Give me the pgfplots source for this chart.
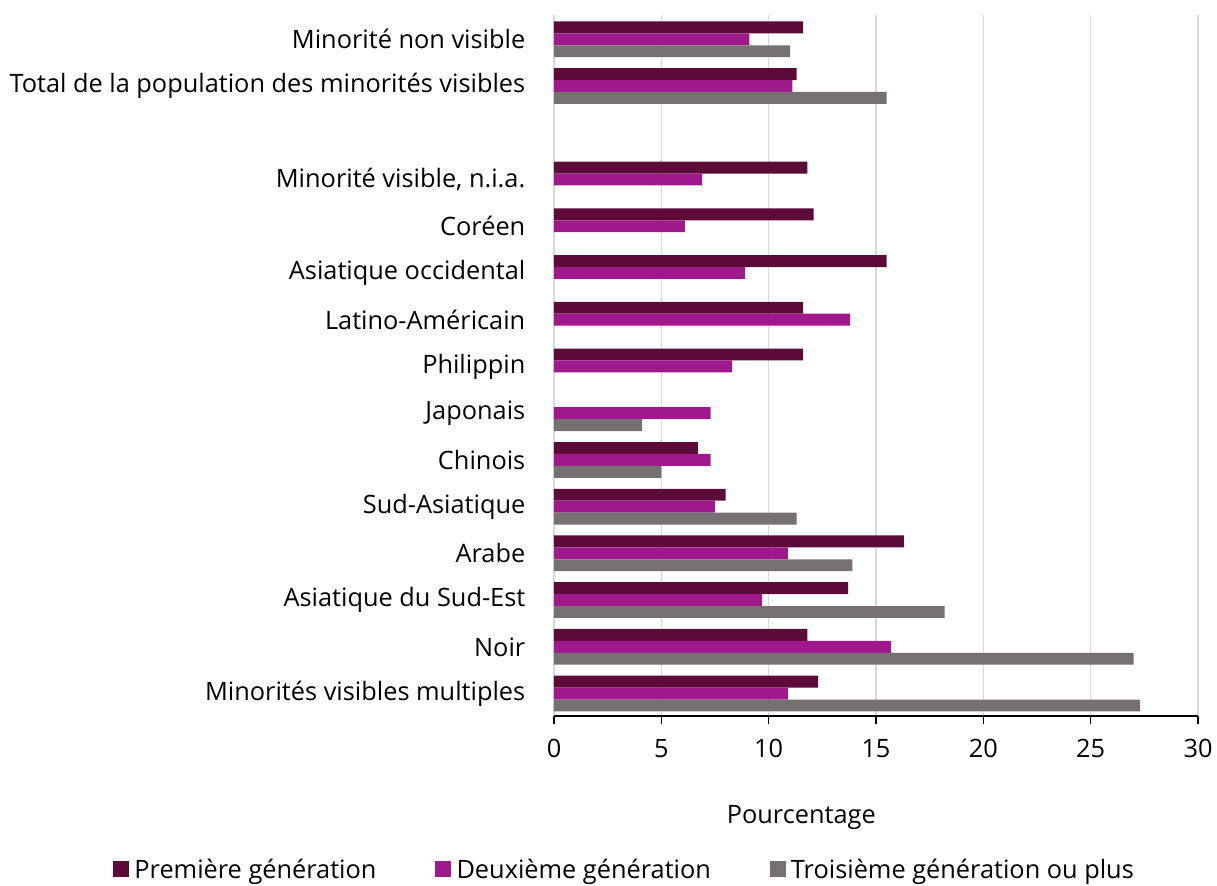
\documentclass[border=0pt]{standalone}
\usepackage{fontspec}
\setmainfont{Open Sans}
\usepackage{pgfplots}
\pgfplotsset{compat=1.18}

\definecolor{gen1}{HTML}{5C0A38}
\definecolor{gen2}{HTML}{A0198C}
\definecolor{gen3}{HTML}{767171}
\definecolor{gridc}{HTML}{D9D9D9}

% y: 0 = bottom category, 12 = empty slot
\pgfplotstableread{
y    v
14   11.6
13   11.3
11   11.8
10   12.1
9    15.5
8    11.6
7    11.6
5    6.7
4    8.0
3    16.3
2    13.7
1    11.8
0    12.3
}\premiere
\pgfplotstableread{
y    v
14   9.1
13   11.1
11   6.9
10   6.1
9    8.9
8    13.8
7    8.3
6    7.3
5    7.3
4    7.5
3    10.9
2    9.7
1    15.7
0    10.9
}\deuxieme
\pgfplotstableread{
y    v
14   11.0
13   15.5
6    4.1
5    5.0
4    11.3
3    13.9
2    18.2
1    27.0
0    27.3
}\troisieme

\begin{document}
\begin{tikzpicture}[x=1pt,y=1pt]
\begin{axis}[
    name=ax,
    at={(0,0)}, anchor=south west,
    scale only axis,
    width=483pt, height=525.75pt,
    xbar, bar width=0.255,
    xmin=0, xmax=30,
    ymin=-0.48, ymax=14.52,
    xtick={0,5,...,30},
    ytick={0,1,2,3,4,5,6,7,8,9,10,11,13,14},
    yticklabels={Minorités visibles multiples, Noir, Asiatique du Sud-Est, Arabe,
      Sud-Asiatique, Chinois, Japonais, Philippin, Latino-Américain,
      Asiatique occidental, Coréen, {Minorité visible, n.i.a.},
      Total de la population des minorités visibles, Minorité non visible},
    axis x line*=bottom,
    axis y line*=left,
    y axis line style={draw=none},
    x axis line style={draw=black, line width=1pt, -},
    xmajorgrids, grid style={gridc, line width=1.2pt},
    tick align=outside,
    xtick style={draw=black, line width=1pt},
    major tick length=6pt,
    ytick style={draw=none},
    tick label style={font=\fontsize{19}{21}\selectfont, text=black},
    yticklabel style={xshift=-12pt},
    xticklabel style={yshift=-8pt},
    /pgf/number format/assume math mode=true,
    xlabel={Pourcentage},
    xlabel style={font=\fontsize{19}{21}\selectfont, at={(axis description cs:0.384,0)}, anchor=center, yshift=-76pt},
    legend columns=3,
    legend style={draw=none, at={(axis description cs:0.11,0)}, anchor=center, yshift=-115pt,
      font=\fontsize{19}{21}\selectfont, column sep=2pt,
      /tikz/every even column/.append style={column sep=42pt}},
    legend image code/.code={\fill[#1] (0pt,-6pt) rectangle (12pt,6pt);},
]
\addplot[draw=none, fill=gen1, bar shift=0.255] table[x=v, y=y] {\premiere};
\addplot[draw=none, fill=gen2, bar shift=0] table[x=v, y=y] {\deuxieme};
\addplot[draw=none, fill=gen3, bar shift=-0.255] table[x=v, y=y] {\troisieme};
\legend{Première génération, Deuxième génération, Troisième génération ou plus}
\end{axis}
\path (ax.south west) ++(-415.5pt,-126pt) coordinate (bl);
\path (ax.south west) ++(497.25pt,537pt) coordinate (tr);
\path[draw=none] (bl) rectangle (tr);
\end{tikzpicture}
\end{document}
